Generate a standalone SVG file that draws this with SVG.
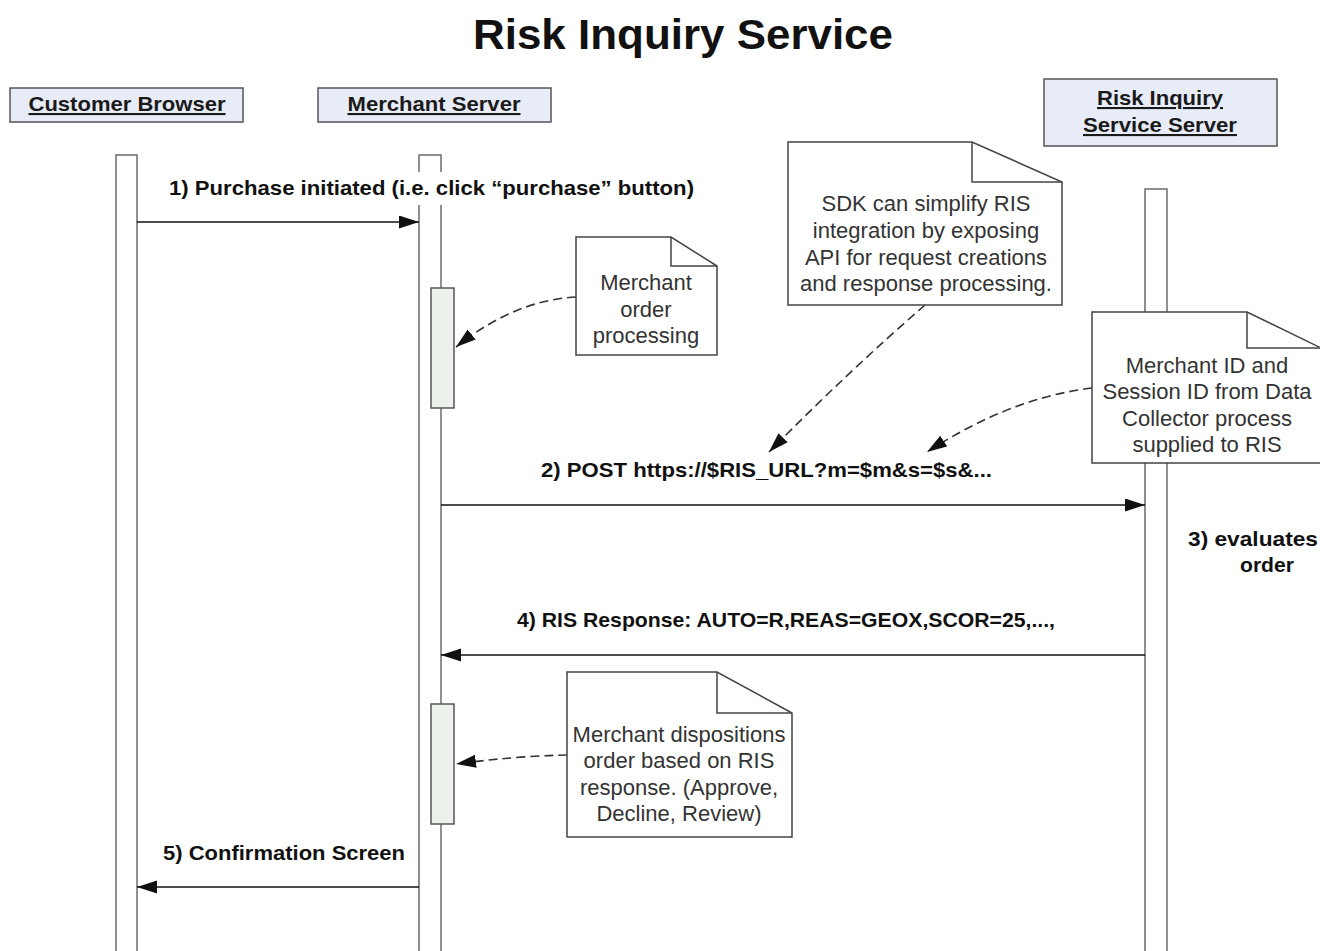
<svg xmlns="http://www.w3.org/2000/svg" width="1320" height="951" viewBox="0 0 1320 951">
<style>
  .hdr { fill: #e8ecf7; stroke: #555; stroke-width: 1.5; }
  .hdrt { font-family: "Liberation Sans", Arial, sans-serif; font-size: 21px; font-weight: bold; fill: #1a1a1a; text-decoration: underline; text-anchor: middle; }
  .life { fill: #fff; stroke: #6b6b6b; stroke-width: 1.5; }
  .act { fill: #edf1ec; stroke: #555; stroke-width: 1.5; }
  .msg { stroke: #111; stroke-width: 1.5; fill: none; marker-end: url(#solid); }
  .msgt { font-family: "Liberation Sans", Arial, sans-serif; font-size: 21px; font-weight: bold; fill: #111; }
  .note { fill: #fff; stroke: #444; stroke-width: 1.5; }
  .fold { fill: none; stroke: #444; stroke-width: 1.5; }
  .notet { font-family: "Liberation Sans", Arial, sans-serif; font-size: 22px; fill: #333; text-anchor: middle; }
  .dash { stroke: #333; stroke-width: 1.6; fill: none; stroke-dasharray: 9 5; marker-end: url(#solid); }
  .title { font-family: "Liberation Sans", Arial, sans-serif; font-size: 43px; font-weight: bold; fill: #111; text-anchor: middle; }
</style>
<defs>
  <marker id="solid" markerUnits="userSpaceOnUse" markerWidth="22" markerHeight="14" refX="20" refY="6.5" orient="auto">
    <path d="M0,0 L20,6.5 L0,13 Z" fill="#111"/>
  </marker>
</defs>
<rect width="1320" height="951" fill="#fff"/>
<text class="title" x="683" y="49" textLength="420" lengthAdjust="spacingAndGlyphs">Risk Inquiry Service</text>

<g id="customer-browser">
  <rect class="hdr" x="10" y="88" width="233" height="34"/>
  <text class="hdrt" x="127" y="111" textLength="197" lengthAdjust="spacingAndGlyphs">Customer Browser</text>
  <rect class="life" x="116" y="155" width="21" height="800"/>
</g>

<g id="merchant-server">
  <rect class="hdr" x="318" y="88" width="233" height="34"/>
  <text class="hdrt" x="434" y="111" textLength="173" lengthAdjust="spacingAndGlyphs">Merchant Server</text>
  <rect class="life" x="419" y="155" width="22" height="800"/>
  <rect class="act" x="431" y="288" width="23" height="120"/>
  <rect class="act" x="431" y="704" width="23" height="120"/>
</g>

<g id="ris-server">
  <rect class="hdr" x="1044" y="79" width="233" height="67"/>
  <text class="hdrt" x="1160" y="105" textLength="126" lengthAdjust="spacingAndGlyphs">Risk Inquiry</text>
  <text class="hdrt" x="1160" y="132" textLength="154" lengthAdjust="spacingAndGlyphs">Service Server</text>
  <rect class="life" x="1145" y="189" width="22" height="770"/>
</g>

<g id="connectors">
  <line class="msg" x1="137" y1="222" x2="419" y2="222"/>
  <line class="msg" x1="441" y1="505" x2="1145" y2="505"/>
  <line class="msg" x1="1145" y1="655" x2="441" y2="655"/>
  <line class="msg" x1="419" y1="887" x2="137" y2="887"/>
  <path class="dash" d="M576,297 Q515,300 456,347"/>
  <path class="dash" d="M925,305 Q850,370 769,452"/>
  <path class="dash" d="M1092,388 Q1010,398 927,452"/>
  <path class="dash" d="M567,755 Q515,756 456,764"/>
</g>

<g id="label-1">
  <rect x="165" y="172" width="532" height="33" fill="#fff"/>
  <text class="msgt" x="169" y="195" textLength="525" lengthAdjust="spacingAndGlyphs">1) Purchase initiated (i.e. click “purchase” button)</text>
</g>
<g id="label-2">
  <text class="msgt" x="541" y="477" textLength="451" lengthAdjust="spacingAndGlyphs">2) POST https://$RIS_URL?m=$m&amp;s=$s&amp;...</text>
</g>
<g id="label-3">
  <text class="msgt" x="1188" y="546" textLength="130" lengthAdjust="spacingAndGlyphs">3)  evaluates</text>
  <text class="msgt" x="1240" y="572" textLength="54" lengthAdjust="spacingAndGlyphs">order</text>
</g>
<g id="label-4">
  <text class="msgt" x="517" y="627" textLength="538" lengthAdjust="spacingAndGlyphs">4) RIS Response: AUTO=R,REAS=GEOX,SCOR=25,...,</text>
</g>
<g id="label-5">
  <text class="msgt" x="163" y="860" textLength="242" lengthAdjust="spacingAndGlyphs">5) Confirmation Screen</text>
</g>

<g id="note-merchant-processing">
  <path class="note" d="M576,237 L671,237 L717,266 L717,355 L576,355 Z"/>
  <path class="fold" d="M671,237 L671,266 L717,266"/>
  <text class="notet" x="646" y="290">Merchant</text>
  <text class="notet" x="646" y="317">order</text>
  <text class="notet" x="646" y="343">processing</text>
</g>

<g id="note-sdk">
  <path class="note" d="M788,142 L972,142 L1062,182 L1062,305 L788,305 Z"/>
  <path class="fold" d="M972,142 L972,182 L1062,182"/>
  <text class="notet" x="926" y="211">SDK can simplify RIS</text>
  <text class="notet" x="926" y="238">integration by exposing</text>
  <text class="notet" x="926" y="265">API for request creations</text>
  <text class="notet" x="926" y="291">and response processing.</text>
</g>

<g id="note-ids">
  <path class="note" d="M1092,312 L1247,312 L1321,348 L1321,463 L1092,463 Z"/>
  <path class="fold" d="M1247,312 L1247,348 L1321,348"/>
  <text class="notet" x="1207" y="373">Merchant ID and</text>
  <text class="notet" x="1207" y="399">Session ID from Data</text>
  <text class="notet" x="1207" y="426">Collector process</text>
  <text class="notet" x="1207" y="452">supplied to RIS</text>
</g>

<g id="note-dispositions">
  <path class="note" d="M567,672 L717,672 L792,713 L792,837 L567,837 Z"/>
  <path class="fold" d="M717,672 L717,713 L792,713"/>
  <text class="notet" x="679" y="742">Merchant dispositions</text>
  <text class="notet" x="679" y="768">order based on RIS</text>
  <text class="notet" x="679" y="795">response. (Approve,</text>
  <text class="notet" x="679" y="821">Decline, Review)</text>
</g>
</svg>
